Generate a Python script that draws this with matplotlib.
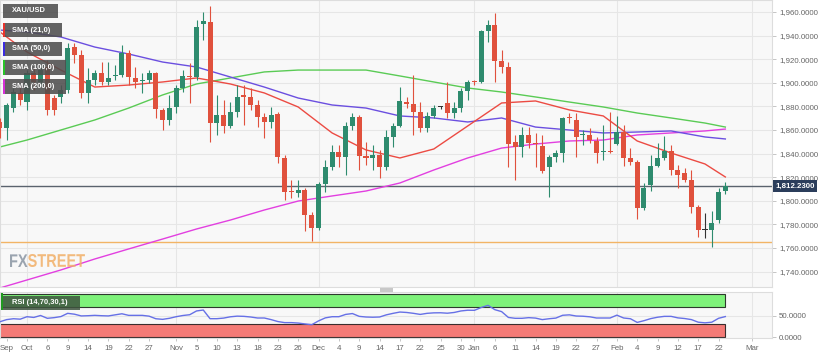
import numpy as np
import pandas as pd
import matplotlib
matplotlib.use("Agg")
import matplotlib.pyplot as plt
import matplotlib.transforms as mtransforms
from matplotlib.patches import Rectangle, PathPatch
from matplotlib.textpath import TextPath
from matplotlib.font_manager import FontProperties

W, H = 831, 356

first_day = "2020-09-25"
last_tick_day = "2021-03-01"

# daily XAU/USD candles, Sep 25 2020 .. Feb 23 2021
opens = [1866.8, 1861.7, 1878.6, 1891.4, 1883.7, 1908.3, 1900.7, 1913.4, 1887.1, 1888.0,
         1893.9, 1930.3, 1923.6, 1891.4, 1902.4, 1908.3, 1900.7, 1905.8, 1906.6, 1925.3,
         1904.1, 1901.5, 1902.4, 1908.3, 1876.9, 1868.5, 1879.5, 1895.6, 1905.8, 1904.9,
         1949.8, 1951.5, 1865.9, 1872.7, 1863.4, 1875.3, 1889.7, 1888.0, 1881.2, 1871.0,
         1866.8, 1873.6, 1836.3, 1808.3, 1806.6, 1809.2, 1788.0, 1776.9, 1814.2, 1828.6,
         1841.4, 1837.1, 1863.4, 1871.0, 1838.0, 1836.3, 1838.8, 1828.6, 1854.1, 1863.4,
         1883.7, 1882.0, 1875.3, 1861.7, 1871.9, 1879.2, 1882.9, 1874.4, 1878.6, 1893.1,
         1901.5, 1901.0, 1943.9, 1949.0, 1918.5, 1913.4, 1849.8, 1845.6, 1855.8, 1849.0,
         1846.4, 1828.6, 1837.1, 1840.5, 1870.3, 1868.5, 1855.8, 1855.8, 1850.7, 1841.4,
         1842.2, 1848.1, 1858.3, 1836.3, 1832.9, 1793.9, 1813.4, 1829.5, 1836.3, 1842.2,
         1826.1, 1823.6, 1817.6, 1794.7, 1775.6, 1775.3, 1783.7, 1808.3]
highs = [1870.2, 1882.9, 1895.6, 1896.4, 1910.8, 1912.5, 1915.1, 1919.3, 1889.7, 1898.1,
         1933.7, 1933.7, 1927.8, 1912.5, 1910.8, 1917.6, 1917.6, 1915.1, 1932.0, 1927.8,
         1913.4, 1908.3, 1910.8, 1909.2, 1878.6, 1889.7, 1898.1, 1910.8, 1916.8, 1953.2,
         1960.0, 1965.1, 1889.7, 1885.4, 1883.7, 1898.1, 1898.1, 1895.6, 1885.4, 1874.4,
         1879.5, 1875.3, 1838.8, 1817.6, 1817.6, 1810.8, 1790.5, 1815.9, 1834.6, 1847.3,
         1847.3, 1866.8, 1874.4, 1872.7, 1849.8, 1847.3, 1843.1, 1860.0, 1865.9, 1896.4,
         1888.0, 1906.6, 1883.7, 1875.3, 1881.2, 1880.3, 1900.7, 1883.7, 1895.6, 1902.4,
         1902.0, 1944.7, 1953.2, 1959.2, 1927.8, 1917.6, 1855.8, 1862.5, 1862.5, 1857.5,
         1855.8, 1838.8, 1843.1, 1871.0, 1874.4, 1874.4, 1860.0, 1861.7, 1854.1, 1864.2,
         1875.3, 1871.9, 1864.2, 1844.7, 1834.6, 1815.1, 1838.8, 1849.0, 1854.9, 1847.3,
         1830.3, 1827.8, 1826.1, 1796.4, 1789.7, 1791.4, 1810.8, 1815.9]
lows = [1853.2, 1851.5, 1875.3, 1881.2, 1876.9, 1893.9, 1897.3, 1872.7, 1872.7, 1882.9,
        1891.4, 1916.8, 1887.1, 1882.9, 1898.1, 1898.1, 1898.1, 1902.4, 1904.9, 1898.1,
        1895.6, 1891.4, 1899.8, 1870.2, 1860.0, 1864.2, 1874.4, 1892.2, 1882.9, 1902.4,
        1936.3, 1849.8, 1855.8, 1857.5, 1861.7, 1871.0, 1864.2, 1876.9, 1862.5, 1853.2,
        1861.7, 1832.0, 1800.7, 1802.4, 1803.2, 1774.4, 1765.9, 1775.3, 1807.5, 1826.1,
        1828.6, 1821.9, 1860.0, 1826.1, 1830.3, 1826.1, 1819.3, 1826.1, 1845.6, 1862.5,
        1878.6, 1855.8, 1858.3, 1858.3, 1870.2, 1877.8, 1870.2, 1870.2, 1875.3, 1885.4,
        1898.1, 1900.0, 1934.6, 1900.7, 1908.3, 1828.6, 1817.6, 1837.1, 1844.7, 1828.6,
        1823.6, 1803.2, 1832.9, 1832.9, 1865.9, 1837.1, 1847.3, 1849.0, 1832.0, 1834.6,
        1840.5, 1847.3, 1829.5, 1830.3, 1784.6, 1792.2, 1808.3, 1828.6, 1834.6, 1821.9,
        1810.8, 1815.9, 1789.7, 1769.3, 1768.5, 1760.8, 1781.2, 1805.8]
closes = [1861.7, 1881.2, 1892.2, 1885.4, 1908.3, 1900.7, 1910.8, 1877.0, 1876.9, 1893.9,
          1929.5, 1923.6, 1891.4, 1902.4, 1908.3, 1900.7, 1904.1, 1906.6, 1925.3, 1904.9,
          1900.7, 1902.4, 1908.3, 1877.8, 1868.5, 1878.6, 1895.6, 1905.8, 1904.9, 1947.3,
          1952.4, 1865.9, 1872.7, 1863.4, 1875.3, 1888.0, 1888.0, 1881.2, 1871.0, 1866.8,
          1872.7, 1837.1, 1807.5, 1807.5, 1809.2, 1788.0, 1776.9, 1814.2, 1828.6, 1841.4,
          1837.1, 1863.4, 1871.0, 1838.0, 1836.3, 1838.8, 1828.6, 1854.1, 1863.4, 1884.6,
          1882.0, 1875.3, 1861.7, 1871.9, 1878.6, 1879.2, 1874.4, 1878.6, 1893.1, 1900.7,
          1900.7, 1943.9, 1949.0, 1918.5, 1913.4, 1848.1, 1845.6, 1855.8, 1849.0, 1848.1,
          1825.3, 1837.1, 1840.5, 1870.2, 1869.8, 1854.1, 1856.6, 1851.5, 1840.5, 1842.2,
          1841.4, 1858.3, 1836.3, 1832.9, 1793.9, 1810.8, 1829.5, 1836.3, 1842.2, 1826.1,
          1821.9, 1817.6, 1794.7, 1775.3, 1775.6, 1781.2, 1807.5, 1812.23]

rsi = [36, 41, 43, 42, 47.7, 46, 50.5, 44, 45.5, 48,
       55.5, 53.5, 49.5, 50, 50.8, 50, 49.5, 52, 54.5, 50.8,
       50.8, 50.8, 49, 43, 41.6, 44, 47.7, 50.5, 52.3, 61,
       63.2, 43.1, 43.1, 44.5, 47.5, 49, 48.5, 47, 44.7, 44.7,
       41, 36.5, 34, 34, 33, 31, 29.2, 38, 45, 47.7,
       47.7, 53, 55, 48.5, 47, 46.5, 47, 52, 55.5, 58.5,
       57.5, 55.5, 53, 55.5, 56.6, 56.8, 55.8, 57.5, 61, 62.7,
       62.5, 69, 74, 64, 59.5, 46, 44, 44, 45.5, 44.5,
       41, 43, 44.5, 51, 52, 49.3, 48.8, 47.5, 44.7, 44.7,
       44.7, 51.3, 44.7, 43, 34.5, 38.5, 43.3, 46.5, 48.5, 48.5,
       45, 43.5, 41, 35, 33.5, 35, 44, 48]

# moving averages read at every fifth candle
sma_pos = [0, 4, 9, 14, 19, 24, 29, 34, 39, 44, 49, 54, 59, 64, 69, 74, 79, 84, 89, 94, 99, 104, 107]
sma21 = [1943.1, 1926.1, 1910.8, 1896.4, 1898.1, 1900.7, 1904.1, 1899.0, 1891.4, 1879.5, 1857.5, 1843.1,
         1836.3, 1843.9, 1863.4, 1882.9, 1884.6, 1877.0, 1871.9, 1850.7, 1840.5, 1831.2, 1820.2]
sma50 = [1944.7, 1943.1, 1938.8, 1930.3, 1924.4, 1917.6, 1913.4, 1904.9, 1896.4, 1887.1, 1881.2, 1878.6,
         1871.9, 1870.2, 1866.8, 1870.2, 1862.5, 1860.0, 1857.5, 1858.3, 1859.2, 1854.1, 1852.4]
sma100 = [1845.6, 1851.5, 1860.0, 1868.5, 1878.6, 1889.7, 1899.0, 1904.1, 1909.2, 1910.8, 1910.8, 1910.8,
          1905.8, 1900.7, 1895.6, 1892.2, 1888.0, 1883.7, 1879.5, 1874.4, 1870.2, 1865.9, 1862.5]
sma200 = [1726.1, 1732.9, 1741.4, 1750.7, 1759.2, 1767.6, 1776.1, 1783.7, 1792.2, 1799.8, 1804.1, 1808.3,
          1815.1, 1826.1, 1836.3, 1844.7, 1848.1, 1850.7, 1851.5, 1855.8, 1857.5, 1859.2, 1860.8]

last_price = 1812.23
support_level = 1765.4

tick_days = ["2020-09-28", "2020-10-01", "2020-10-06", "2020-10-09", "2020-10-14", "2020-10-19",
             "2020-10-22", "2020-10-27", "2020-11-02", "2020-11-05", "2020-11-10", "2020-11-13",
             "2020-11-18", "2020-11-23", "2020-11-26", "2020-12-01", "2020-12-04", "2020-12-09",
             "2020-12-14", "2020-12-17", "2020-12-22", "2020-12-25", "2020-12-30", "2021-01-01",
             "2021-01-06", "2021-01-11", "2021-01-14", "2021-01-19", "2021-01-22", "2021-01-27",
             "2021-02-01", "2021-02-04", "2021-02-09", "2021-02-12", "2021-02-17", "2021-02-22",
             "2021-03-01"]
tick_labels = ["Sep", "Oct", "6", "9", "14", "19", "22", "27", "Nov", "5", "10", "13", "18", "23",
               "26", "Dec", "4", "9", "14", "17", "22", "25", "30", "Jan", "6", "11", "14", "19",
               "22", "27", "Feb", "4", "9", "12", "17", "22", "Mar"]

price_ticks = [1740, 1760, 1780, 1800, 1820, 1840, 1860, 1880, 1900, 1920, 1940, 1960]
rsi_ticks = [0, 50]

plt.rcParams['font.family'] = ['Liberation Sans', 'DejaVu Sans']

GREEN = '#2e8b6e'
RED = '#e0513d'
GRID = '#e6e6e6'
BG = '#f8f8f8'
LABEL = '#666666'


def fx(px):
    return px / W


def fy(py):
    return 1 - py / H


cal = pd.bdate_range(first_day, last_tick_day)
tick_pos = [cal.get_loc(pd.Timestamp(d)) for d in tick_days]
month_pos = [k for k in range(1, len(cal)) if cal[k].month != cal[k - 1].month]

o = np.array(opens)
h = np.array(highs)
l = np.array(lows)
c = np.array(closes)
x = np.arange(len(c))

fig = plt.figure(figsize=(W / 100, H / 100), dpi=100)
fig.patch.set_facecolor('white')

ax = fig.add_axes([0, fy(287), fx(772), 287 / H])
ax2 = fig.add_axes([0, fy(338), fx(772), (338 - 292) / H], sharex=ax)

# slot spacing 6.78 px, first candle centred at -0.12 px
xl = (0.12 / 6.78, (772 + 0.12) / 6.78)

for a in (ax, ax2):
    a.set_facecolor(BG)
    for s in a.spines.values():
        s.set_color('#dddddd')
        s.set_linewidth(0.8)
    for m in month_pos:
        a.axvline(m, color=GRID, lw=0.8, zorder=0)

ax.set_xlim(*xl)
ax.set_ylim(1726.95, 1970.17)
for p in price_ticks:
    ax.axhline(p, color=GRID, lw=0.8, zorder=0)

ax.yaxis.tick_right()
ax.set_yticks(price_ticks)
ax.set_yticklabels([f"{p:,.4f}" for p in price_ticks])
ax.tick_params(axis='y', length=3, width=0.6, color='#bbbbbb', pad=2, labelsize=5.7, labelcolor=LABEL)
ax.tick_params(axis='x', bottom=False, labelbottom=False)

# horizontal reference lines
ax.axhline(support_level, color='#f2b465', lw=1.0, zorder=1)
ax.axhline(last_price, color='#5a636e', lw=1.0, zorder=1)

# moving averages
ax.plot(sma_pos, sma200, color='#e23fe0', lw=1.0, zorder=2)
ax.plot(sma_pos, sma100, color='#5acb55', lw=1.0, zorder=2)
ax.plot(sma_pos, sma50, color='#6b4fe0', lw=1.0, zorder=2)
ax.plot(sma_pos, sma21, color='#ec4b43', lw=1.0, zorder=2)

# candles
cols = np.where(c > o, GREEN, np.where(c < o, RED, '#333333'))
ax.vlines(x, l, h, colors=cols, lw=0.8, zorder=3)
ax.bar(x, np.maximum(np.abs(c - o), 0.9), bottom=np.minimum(o, c), width=0.74,
       color=cols, linewidth=0, zorder=4)

# last price tag
tr = mtransforms.blended_transform_factory(ax.transAxes, ax.transData)
ax.text(1.004, last_price, f"{last_price:,.4f}", transform=tr, ha='left', va='center',
        fontsize=5.7, fontweight='bold', color='white', clip_on=False, zorder=10,
        bbox=dict(boxstyle='square,pad=0.3', fc='#2b3d5b', ec='none'))

# RSI panel
ax2.set_ylim(-1.6, 104.9)
ax2.axhline(50, color=GRID, lw=0.8, zorder=0)
x_end = len(c) - 1
ax2.add_patch(Rectangle((xl[0] - 1, 70), x_end - xl[0] + 1, 30, fc='#7ef27a', ec='#2d3a2d', lw=0.8, zorder=1))
ax2.add_patch(Rectangle((xl[0] - 1, 0), x_end - xl[0] + 1, 30, fc='#f47a76', ec='#3a2d2d', lw=0.8, zorder=1))
ax2.plot(x, rsi, color='#6670e6', lw=1.0, zorder=3)
ax2.yaxis.tick_right()
ax2.set_yticks(rsi_ticks)
ax2.set_yticklabels([f"{v:.4f}" for v in rsi_ticks])
ax2.tick_params(axis='y', length=3, width=0.6, color='#bbbbbb', pad=2, labelsize=5.7, labelcolor=LABEL)
ax2.set_xticks(tick_pos)
ax2.set_xticklabels(tick_labels)
ax2.tick_params(axis='x', length=2, width=0.6, color='#bbbbbb', pad=3, labelsize=5.7, labelcolor=LABEL)

# scroll handle between panels
fig.patches.append(Rectangle((fx(380), fy(292)), 13 / W, 4 / H, transform=fig.transFigure,
                             fc='#c8c8c8', ec='none'))

# legend tags
tags = [("XAU/USD", None, 4, 18, 58),
        ("SMA (21,0)", '#e8332c', 23, 37, 62),
        ("SMA (50,0)", '#3b2be0', 42, 56, 62),
        ("SMA (100,0)", '#28c428', 60, 75, 66),
        ("SMA (200,0)", '#d62fd6', 79, 94, 66)]
for txt, stripe, y0, y1, x1 in tags:
    fig.patches.append(Rectangle((fx(3), fy(y1)), (x1 - 3) / W, (y1 - y0) / H,
                                 transform=fig.transFigure, fc='#4e4e4e', ec='none', alpha=0.88, zorder=20))
    if stripe:
        fig.patches.append(Rectangle((fx(3), fy(y1)), 2 / W, (y1 - y0) / H,
                                     transform=fig.transFigure, fc=stripe, ec='none', zorder=21))
    fig.text(fx(12), fy((y0 + y1) / 2), txt, ha='left', va='center', fontsize=5.4,
             fontweight='bold', color='white', zorder=22)

fig.patches.append(Rectangle((fx(3), fy(310)), 77 / W, 14 / H, transform=fig.transFigure,
                             fc='#3e533e', ec='none', alpha=0.85, zorder=20))
fig.patches.append(Rectangle((fx(1), fy(310)), 2 / W, 17 / H, transform=fig.transFigure,
                             fc='#1f9a1f', ec='none', zorder=21))
fig.text(fx(12), fy(303), "RSI (14,70,30,1)", ha='left', va='center', fontsize=5.4,
         fontweight='bold', color='white', zorder=22)

# watermark: condensed bold letters, squeezed into the box seen on the chart
fp = FontProperties(family='Liberation Sans', weight='bold')
full = TextPath((0, 0), "FXSTREET", size=10, prop=fp).get_extents()
sx = 75 / full.width
sy = 13 / full.height
for word, left, colour in (("FX", 10, '#8a95a3'), ("STREET", 28, '#f2b068')):
    tp = TextPath((0, 0), word, size=10, prop=fp)
    e = tp.get_extents()
    t = mtransforms.Affine2D().translate(-e.x0, -e.y0).scale(sx, sy).translate(left, H - 267)
    fig.add_artist(PathPatch(tp, transform=t, fc=colour, ec='none', alpha=0.85))

fig.savefig('out.png', dpi=100, facecolor='white')
